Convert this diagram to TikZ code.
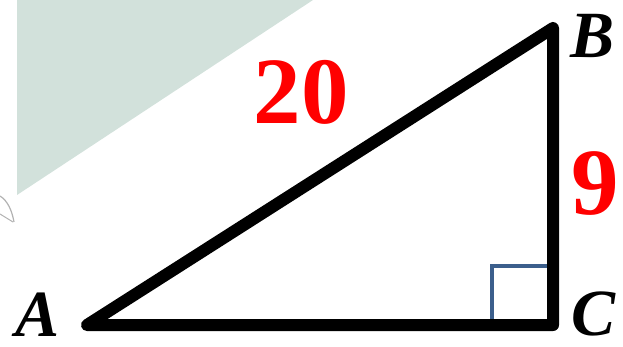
\documentclass[tikz,border=0pt]{standalone}
\usepackage{fontspec}
\setmainfont{Liberation Serif}
\usepackage{tikz}
\usetikzlibrary{calc, positioning}
\definecolor{shadegreen}{RGB}{210, 225, 219}
\definecolor{markblue}{RGB}{60, 95, 140}
\definecolor{numred}{RGB}{255, 0, 0}
\tikzstyle{side} = [line width=12pt, line join=round, line cap=round, black]
\tikzstyle{rightmark} = [line width=4pt, markblue, line cap=round]
\tikzstyle{vertexlabel} = [inner sep=0pt, font=\fontsize{66}{66}\selectfont\bfseries\itshape]
\tikzstyle{lengthlabel} = [inner sep=0pt, text=numred, font=\fontsize{95}{95}\selectfont\bfseries]

\begin{document}
\begin{tikzpicture}[x=1pt, y=-1pt]
    \useasboundingbox (0,0) rectangle (623,347);
    % Background shading
    \fill[shadegreen] (17,0) -- (313,0) -- (17,195) -- cycle;
    \draw[gray!60, line width=1.2pt] (0,196) .. controls (8,201) and (12,211) .. (14,222);
    \draw[gray!60, line width=1pt] (0,214) -- (13,222);

    % Vertices
    \coordinate (A) at (87,325);
    \coordinate (B) at (553,28);
    \coordinate (C) at (553,325);

    % Right angle mark
    \draw[rightmark] ($(C)+(-61,0)$) -- ($(C)+(-61,-59)$) -- ($(C)+(-3,-59)$);

    % Triangle
    \draw[side] (A) -- (B) -- (C) -- cycle;

    % Labels
    \node[vertexlabel] (labA) at (38,315) {A};
    \node[vertexlabel] (labB) at (593,36) {B};
    \node[vertexlabel] (labC) at (594,314) {C};
    \node[lengthlabel] (labAB) at (301,92) {20};
    \node[lengthlabel] (labBC) at (595,184) {9};
\end{tikzpicture}
\end{document}
